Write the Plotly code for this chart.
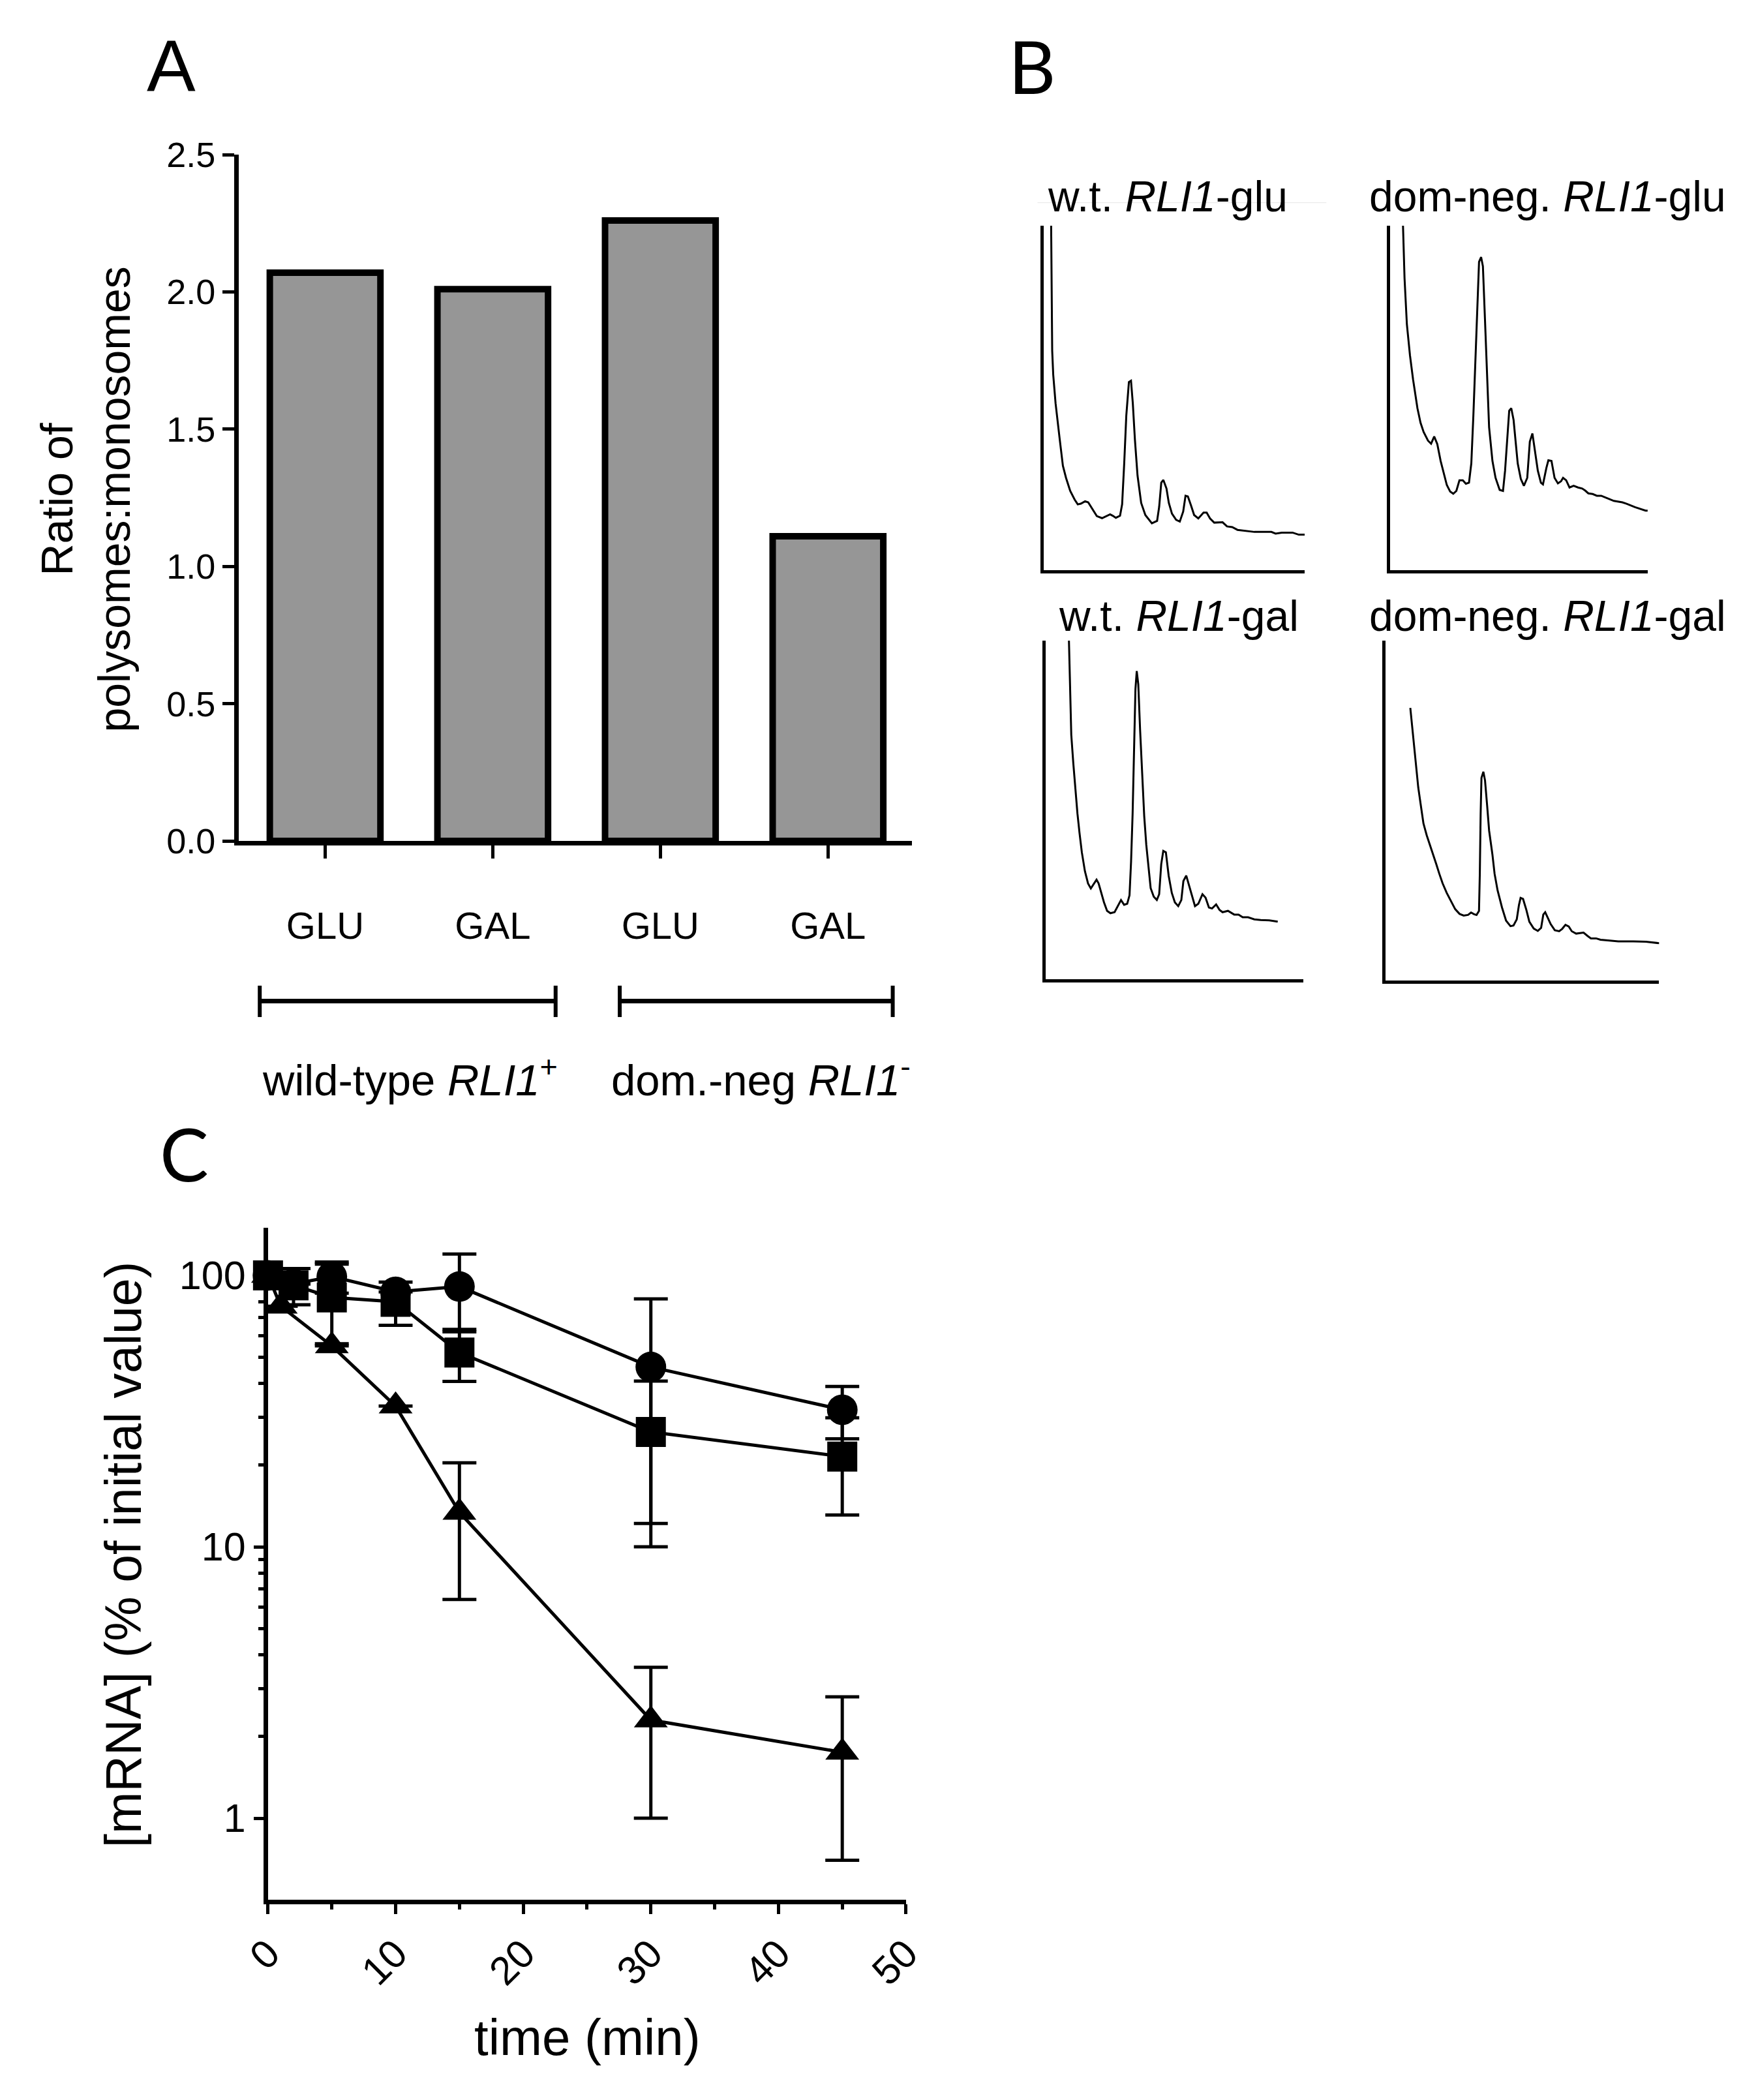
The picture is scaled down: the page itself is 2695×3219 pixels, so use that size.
import numpy as np
import plotly.graph_objects as go

W, H = 2695, 3219

# Panel A - ratio of polysomes:monosomes
conditions = ["GLU", "GAL", "GLU", "GAL"]
ratio = [2.07, 2.01, 2.26, 1.11]
ratio_ticks = [0.0, 0.5, 1.0, 1.5, 2.0, 2.5]
groups = ["wild-type <i>RLI1</i><sup>+</sup>", "dom.-neg <i>RLI1</i><sup>-</sup>"]

# Panel B - gradient profiles (position in gradient %, absorbance arb. units)
wt_glu_x = [2.8, 3.2, 3.6, 4.5, 6.1, 7.3, 8.5, 10.1, 11.8, 13.0, 14.2, 15.8, 17.0, 18.7, 20.3,
            22.3, 23.9, 25.4, 26.4, 27.6, 29.2, 30.0, 30.8, 31.6, 32.6, 33.4, 34.1, 34.9, 35.9,
            37.3, 38.9, 41.4, 43.4, 44.2, 45.0, 45.8, 47.0, 47.9, 49.1, 50.7, 52.1, 53.4, 54.3,
            55.2, 56.4, 57.6, 59.2, 61.2, 62.4, 63.7, 65.3, 68.5, 70.2, 72.2, 74.2, 78.3, 80.7,
            87.2, 88.8, 91.2, 95.3, 97.7, 100.0]
wt_glu_y = [100.0, 63.7, 56.7, 48.4, 37.9, 30.3, 26.8, 23.0, 20.5, 19.1, 19.3, 20.0, 19.7, 17.7,
            15.7, 15.1, 15.7, 16.2, 15.8, 15.2, 15.8, 19.1, 31.0, 44.9, 54.6, 55.0, 48.4, 37.9,
            27.5, 19.5, 16.0, 13.6, 14.3, 18.4, 25.4, 26.2, 23.7, 19.5, 16.4, 14.6, 14.1, 17.0,
            21.6, 21.4, 18.8, 16.0, 15.0, 16.7, 16.7, 15.0, 13.8, 13.9, 12.7, 12.5, 11.7, 11.3,
            11.1, 11.1, 10.6, 10.9, 10.9, 10.3, 10.3]

dn_glu_x = [5.1, 5.7, 6.6, 7.8, 9.0, 10.7, 11.9, 13.1, 14.8, 16.0, 17.2, 18.4, 19.7, 20.9, 22.1,
            23.4, 24.6, 25.8, 27.0, 28.3, 29.5, 30.7, 31.6, 32.4, 33.2, 34.0, 34.6, 35.4, 36.1,
            36.9, 37.7, 38.5, 39.8, 41.0, 42.6, 43.9, 44.7, 45.5, 46.3, 47.1, 48.0, 48.8, 49.6,
            50.8, 52.0, 53.3, 54.3, 55.3, 56.1, 57.4, 58.6, 59.4, 60.7, 61.5, 62.7, 63.9, 65.2,
            66.4, 67.2, 68.4, 69.7, 71.3, 73.0, 74.6, 75.8, 77.0, 78.7, 80.3, 82.0, 84.4, 86.9,
            90.2, 91.8, 95.1, 99.2, 101.0]
dn_glu_y = [100.0, 84.7, 71.4, 62.4, 55.4, 47.0, 42.8, 40.1, 37.6, 36.7, 38.8, 36.6, 31.7, 28.2,
            24.7, 22.8, 22.2, 23.0, 26.1, 26.1, 25.1, 25.4, 31.0, 44.9, 62.4, 79.8, 89.5, 90.9,
            88.2, 72.8, 55.4, 41.5, 31.7, 26.8, 23.3, 23.0, 28.9, 38.0, 46.3, 47.0, 43.6, 37.3,
            31.0, 26.5, 24.5, 26.8, 37.3, 39.7, 35.9, 28.9, 25.4, 24.9, 29.6, 31.9, 31.7, 26.8,
            25.2, 25.8, 26.8, 26.1, 24.0, 24.5, 24.0, 23.7, 23.1, 22.3, 22.1, 21.6, 21.6, 20.9,
            20.1, 19.7, 19.3, 18.3, 17.3, 17.3]

wt_gal_x = [9.0, 9.4, 9.9, 10.7, 11.5, 12.3, 13.1, 14.0, 15.2, 16.4, 17.5, 18.5, 19.7, 20.5, 21.4,
            22.6, 23.8, 25.1, 26.7, 27.9, 29.2, 30.4, 31.6, 32.5, 33.1, 33.7, 34.3, 34.8, 35.3,
            35.9, 36.6, 37.4, 38.2, 39.0, 39.9, 40.7, 41.9, 43.1, 44.0, 44.8, 45.6, 46.6, 47.7,
            48.9, 50.1, 51.4, 52.6, 53.4, 54.5, 55.5, 56.7, 57.9, 59.2, 60.8, 62.0, 63.3, 64.5,
            66.1, 67.4, 68.6, 70.7, 73.1, 74.8, 76.4, 78.5, 80.9, 83.4, 86.7, 90.0]
wt_gal_y = [100.0, 87.8, 72.2, 63.7, 55.9, 48.9, 43.2, 37.5, 31.9, 28.3, 26.8, 28.0, 29.4, 28.3,
            25.8, 22.7, 20.2, 19.5, 19.8, 21.6, 23.4, 22.0, 22.3, 24.8, 34.7, 48.9, 66.6, 85.7,
            91.0, 87.1, 73.7, 60.9, 48.2, 39.7, 32.6, 26.9, 24.4, 23.4, 25.1, 34.0, 37.9, 37.5,
            30.5, 25.5, 22.7, 21.6, 23.4, 29.0, 30.6, 28.0, 24.4, 21.6, 22.3, 25.1, 24.1, 21.2,
            20.9, 22.1, 20.5, 19.8, 20.2, 19.1, 19.1, 18.3, 18.3, 17.7, 17.5, 17.4, 17.0]

dn_gal_x = [9.1, 10.1, 11.0, 12.0, 13.0, 13.9, 15.1, 16.3, 17.4, 18.6, 19.7, 20.9, 22.4, 24.0,
            25.5, 27.1, 28.6, 30.2, 31.3, 32.4, 33.3, 34.2, 34.5, 34.8, 35.1, 35.8, 36.4, 37.2,
            37.9, 39.1, 39.9, 41.0, 42.6, 44.1, 45.7, 46.8, 48.0, 48.8, 49.4, 50.3, 51.5, 52.6,
            54.2, 55.7, 56.9, 57.7, 58.4, 59.2, 60.4, 61.9, 63.5, 64.6, 65.8, 67.0, 68.1, 69.7,
            70.8, 72.4, 73.9, 75.1, 77.0, 78.6, 81.3, 85.1, 90.6, 95.2, 101.0]
dn_gal_y = [80.2, 72.3, 63.9, 56.8, 51.2, 46.2, 42.7, 39.9, 37.1, 34.2, 31.4, 28.6, 25.8, 23.3,
            21.0, 19.6, 19.1, 19.3, 20.0, 19.5, 19.3, 20.5, 31.4, 49.0, 59.6, 61.4, 58.9, 51.2,
            44.1, 37.1, 31.4, 26.5, 21.5, 17.6, 16.0, 16.2, 18.0, 22.2, 24.3, 24.0, 20.8, 17.3,
            15.3, 14.6, 15.5, 19.4, 20.1, 18.7, 16.6, 14.8, 14.5, 15.2, 16.4, 15.9, 14.5, 13.8,
            13.9, 14.1, 13.1, 12.4, 12.4, 12.0, 11.8, 11.5, 11.5, 11.4, 10.9]

profile_titles = ["w.t. <i>RLI1</i>-glu", "dom-neg. <i>RLI1</i>-glu",
                  "w.t. <i>RLI1</i>-gal", "dom-neg. <i>RLI1</i>-gal"]

# Panel C - mRNA decay (% of initial value), mean and SD
t_circle = [0, 2, 5, 10, 15, 30, 45]
circle = [100, 93, 99, 87, 91, 46, 32]
circle_sd = [None, None, 13, None, 29, 36, 7]
t_square = [0, 2, 5, 10, 15, 30, 45]
square = [100, 92, 83, 80, 52, 26.5, 21.5]
square_sd = [None, 14, 27, 14.5, 11.3, 14.3, 8.4]
t_triangle = [0, 1, 5, 10, 15, 30, 45]
triangle = [100, 77, 55, 33, 13.4, 2.3, 1.75]
triangle_sd = [None, None, None, None, 7, 1.3, 1.05]
log_minor = [2, 3, 4, 5, 6, 7, 8, 9, 20, 30, 40, 50, 60, 70, 80, 90]

FONT = "Liberation Sans, Arial, sans-serif"


def fx(px):
    return px / W


def fy(py):
    return 1 - py / H


fig = go.Figure()

# A: bars
fig.add_trace(go.Bar(
    x=list(range(len(conditions))), y=ratio, width=0.66,
    marker=dict(color="#969696", line=dict(color="black", width=10)),
    xaxis="x", yaxis="y"))

# B: four profiles
profiles = [(wt_glu_x, wt_glu_y), (dn_glu_x, dn_glu_y), (wt_gal_x, wt_gal_y), (dn_gal_x, dn_gal_y)]
for i, (px_, py_) in enumerate(profiles, start=2):
    fig.add_trace(go.Scatter(
        x=px_, y=py_, mode="lines", line=dict(color="black", width=3),
        xaxis=f"x{i}", yaxis=f"y{i}"))

# C: decay curves
err = dict(type="data", visible=True, thickness=5, width=26, color="black")
for t, v, sd, sym, size in [(t_circle, circle, circle_sd, "circle", 47),
                            (t_square, square, square_sd, "square", 46),
                            (t_triangle, triangle, triangle_sd, "triangle-up", 45)]:
    fig.add_trace(go.Scatter(
        x=t, y=v, mode="lines+markers", cliponaxis=False,
        line=dict(color="black", width=5),
        marker=dict(symbol=sym, size=size, color="black"),
        error_y=dict(err, array=sd),
        xaxis="x6", yaxis="y6"))

axis_common = dict(showgrid=False, zeroline=False, showline=True, linecolor="black")

layout = dict(
    width=W, height=H, margin=dict(l=0, r=0, t=0, b=0),
    paper_bgcolor="white", plot_bgcolor="white", showlegend=False,
    font=dict(family=FONT, color="black"),
    xaxis=dict(axis_common, domain=[fx(334), fx(1394)], range=[-0.515, 3.5], anchor="y",
               linewidth=7, ticks="outside", ticklen=20, tickwidth=5, tickcolor="black",
               tickvals=list(range(len(conditions))), ticktext=conditions,
               tickfont=dict(size=58), ticklabelstandoff=53),
    yaxis=dict(axis_common, domain=[fy(1283), fy(211)], range=[0, 2.5], anchor="x",
               linewidth=7, ticks="outside", ticklen=18, tickwidth=5, tickcolor="black",
               tickvals=ratio_ticks, tickformat=".1f", tickfont=dict(size=54)),
    xaxis6=dict(axis_common, domain=[fx(380), fx(1385)], range=[0, 50], anchor="y6",
                linewidth=7, ticks="outside", ticklen=15, tickwidth=5, tickcolor="black",
                dtick=10, tickangle=-45, tickfont=dict(size=61), ticklabelstandoff=0,
                minor=dict(dtick=5, ticks="outside", ticklen=8, tickwidth=5, tickcolor="black")),
    yaxis6=dict(axis_common, type="log", domain=[fy(2937), fy(1887)],
                range=[np.log10(0.5), np.log10(150)], anchor="x6",
                linewidth=7, ticks="outside", ticklen=15, tickwidth=5, tickcolor="black",
                tickvals=[1, 10, 100], ticktext=["1", "10", "100"], tickfont=dict(size=61),
                minor=dict(tickvals=log_minor, ticks="outside", ticklen=8, tickwidth=5,
                           tickcolor="black")),
)

# B axis boxes: (left, right, top, bottom) in pixels
b_boxes = [(1602, 2013, 322, 860), (2147, 2553, 322, 860),
           (1605, 2011, 970, 1499), (2140, 2571, 970, 1501)]
for i, (l, r, t, b) in enumerate(b_boxes, start=2):
    layout[f"xaxis{i}"] = dict(axis_common, domain=[fx(l), fx(r)], range=[0, 100],
                               anchor=f"y{i}", linewidth=5, showticklabels=False)
    layout[f"yaxis{i}"] = dict(axis_common, domain=[fy(b), fy(t)], range=[0, 100],
                               anchor=f"x{i}", linewidth=5, showticklabels=False)

fig.update_layout(**layout)


def note(text, x, y, size, angle=0, family=FONT):
    fig.add_annotation(text=text, x=fx(x), y=fy(y), xref="paper", yref="paper",
                       showarrow=False, xanchor="center", yanchor="middle",
                       textangle=angle, font=dict(size=size, family=family, color="black"))


note("A", 228, 72, 112)
note("B", 1583, 72, 112, family="Lato, Open Sans, sans-serif")
note("C", 248, 1771, 112, family="Lato, Open Sans, sans-serif")

note("Ratio of<br>polysomes:monosomes", 92, 750, 68, angle=-90)
note(groups[0], 604, 1652, 67)
note(groups[1], 1156, 1652, 67)

for title, (x, y) in zip(profile_titles, [(1797, 276), (2395, 276), (1814, 931), (2395, 931)]):
    note(title, x, y, 66)

note("[mRNA] (% of initial value)", 152, 2397, 77, angle=-90)
note("time (min)", 883, 3152, 78)

# group brackets under panel A
for x0, x1 in [(367, 833), (934, 1364)]:
    fig.add_shape(type="line", xref="paper", yref="paper", x0=fx(x0), x1=fx(x1),
                  y0=fy(1533), y1=fy(1533), line=dict(color="black", width=7))
    for xe in (x0, x1):
        fig.add_shape(type="line", xref="paper", yref="paper", x0=fx(xe), x1=fx(xe),
                      y0=fy(1509), y1=fy(1558), line=dict(color="black", width=6))

# faint rule under first profile title
fig.add_shape(type="line", xref="paper", yref="paper", x0=fx(1592), x1=fx(2047),
              y0=fy(286), y1=fy(286), line=dict(color="#e6e6e6", width=1))

fig.write_html("out.html", config={"displayModeBar": False},
               post_script="document.body.style.margin='0px';")
